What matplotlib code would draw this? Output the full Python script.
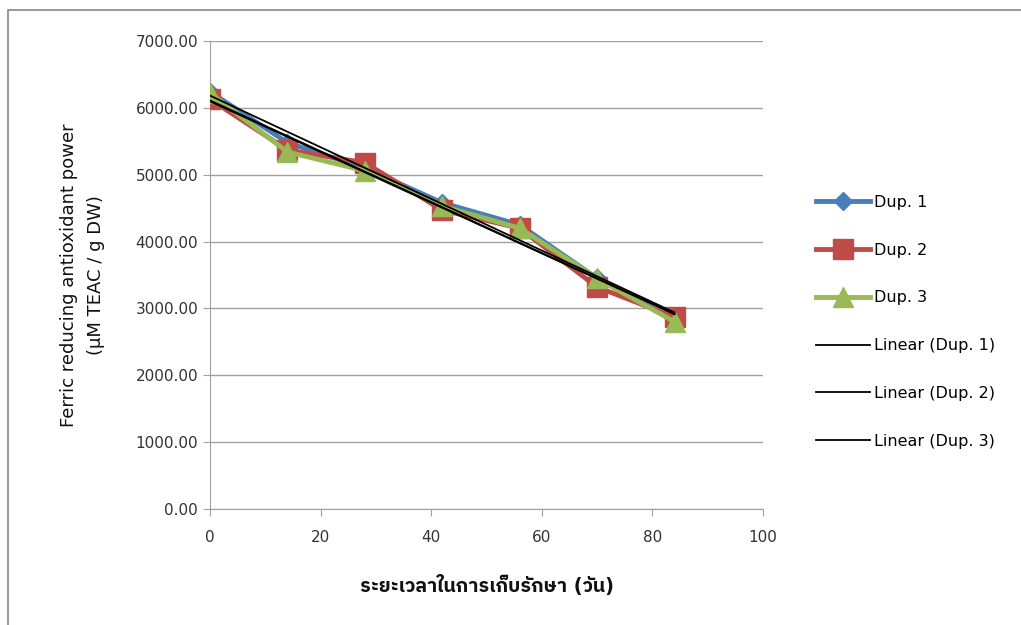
import numpy as np
import matplotlib.pyplot as plt
from matplotlib import font_manager
from matplotlib.patches import Rectangle

days = [0, 14, 28, 42, 56, 70, 84]
dup1 = [6240, 5480, 5100, 4580, 4250, 3450, 2830]
dup2 = [6130, 5370, 5180, 4470, 4200, 3320, 2870]
dup3 = [6220, 5340, 5060, 4530, 4200, 3450, 2800]
names = ["Dup. 1", "Dup. 2", "Dup. 3"]
colors = ["#4a7ebb", "#be4b48", "#98b954"]
markers = ["D", "s", "^"]
msizes = [9, 14, 14]

# find a font that has Thai glyphs
thai = None
for f in font_manager.findSystemFonts():
    if "Thai" in f or "Loma" in f or "Garuda" in f or "Sarabun" in f:
        thai = font_manager.FontProperties(fname=f).get_name()
        break
fam = ["DejaVu Sans"] + ([thai] if thai else [])
plt.rcParams['font.family'] = fam

fig = plt.figure(figsize=(10.21, 6.25), dpi=100)
ax = fig.add_axes([210/1021, 1 - 509/625, (763-210)/1021, (509-41)/625])

fig.patches.append(Rectangle((8/1021, -0.1), 1.2, (625-10)/625 + 0.1, transform=fig.transFigure,
                             fill=False, edgecolor="#888888", linewidth=1.2))

for ys, n, c, m, s in zip([dup1, dup2, dup3], names, colors, markers, msizes):
    ax.plot(days, ys, color=c, lw=3.5, marker=m, markersize=s, label=n, zorder=3)

x = np.array(days)
for ys, n in zip([dup1, dup2, dup3], names):
    k, b = np.polyfit(x, ys, 1)
    ax.plot(x, k*x + b, color="black", lw=1.3, label="Linear (%s)" % n, zorder=4)

ax.set_xlim(0, 100)
ax.set_ylim(0, 7000)
ax.set_xticks(range(0, 101, 20))
ax.set_yticks(range(0, 7001, 1000))
ax.set_yticklabels(["%.2f" % v for v in range(0, 7001, 1000)])
ax.yaxis.grid(True, color="#a0a0a0", lw=1)
ax.set_axisbelow(True)
for sp in ["top", "right"]:
    ax.spines[sp].set_visible(False)
for sp in ["left", "bottom"]:
    ax.spines[sp].set_color("#a0a0a0")
ax.tick_params(colors="#a0a0a0", labelcolor="#333333", labelsize=11, length=5)
ax.tick_params(axis="x", pad=10)

ax.set_ylabel("Ferric reducing antioxidant power\n(\u03bcM TEAC / g DW)", fontsize=13,
              labelpad=22, color="#111111", linespacing=1.6)
ax.set_xlabel("ระยะเวลาในการเก็บรักษา (วัน)", fontsize=14, fontweight="bold",
              labelpad=22, color="#111111")

ax.legend(loc="center left", bbox_to_anchor=(1.07, 0.40), frameon=False, fontsize=11.5,
          labelspacing=2.05, handlelength=3.4, handletextpad=0.2)

fig.savefig("out.png", dpi=100)
